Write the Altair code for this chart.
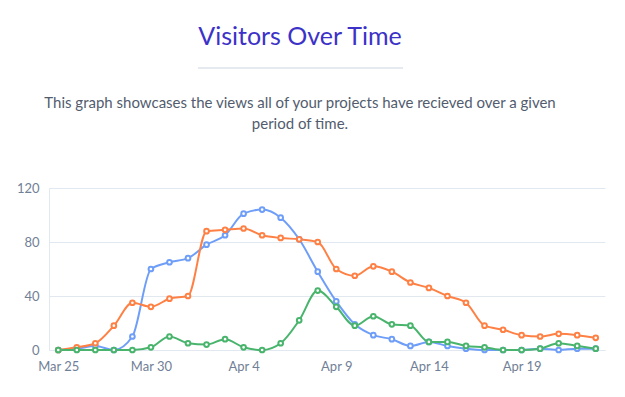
import altair as alt
import pandas as pd

# ---- data ----
days = list(range(30))  # Mar 25 .. Apr 23
tick_values = [0, 5, 10, 15, 20, 25]
tick_labels = ["Mar 25", "Mar 30", "Apr 4", "Apr 9", "Apr 14", "Apr 19"]

blue = [0, 1, 3, 0, 10, 60, 65, 68, 78, 85, 101, 104, 98, 82, 58, 36, 19, 11, 8, 3,
        6, 3, 1, 0, 0, 0, 1, 0, 1, 1]
orange = [0, 2, 5, 18, 35, 32, 38, 40, 88, 89, 90, 85, 83, 82, 80, 60, 55, 62, 58, 50,
          46, 40, 35, 18, 15, 11, 10, 12, 11, 9]
green = [0, 0, 0, 0, 0, 2, 10, 5, 4, 8, 2, 0, 5, 22, 44, 32, 18, 25, 19, 18,
         6, 6, 3, 2, 0, 0, 1, 5, 3, 1]

series_names = ["Series A", "Series B", "Series C"]
series_colors = ["#6f9ef8", "#ff8044", "#48b46c"]

TITLE = "Visitors Over Time"
SUB1 = "This graph showcases the views all of your projects have recieved over a given"
SUB2 = "period of time."

rows = []
for name, vals in zip(series_names, [blue, orange, green]):
    for d, v in zip(days, vals):
        rows.append({"day": d, "value": v, "series": name})
df = pd.DataFrame(rows)

label_expr = "[" + ",".join("'%s'" % l for l in tick_labels) + "][datum.value / 5]"

W, H = 556, 162
FONT = "Lato"

x = alt.X("day:Q", scale=alt.Scale(domain=[-0.5, 29.5], nice=False, zero=False),
          axis=alt.Axis(values=tick_values, labelExpr=label_expr, title=None, grid=False,
                        ticks=False, domain=True, domainColor="#e2e8f0", labelColor="#718096",
                        labelFont=FONT, labelFontSize=13, labelPadding=10))
y = alt.Y("value:Q", scale=alt.Scale(domain=[0, 120]),
          axis=alt.Axis(values=[0, 40, 80, 120], title=None, grid=True, gridColor="#e2e8f0",
                        ticks=False, domain=True, domainColor="#e2e8f0", labelColor="#718096",
                        labelFont=FONT, labelFontSize=13, labelPadding=10))
color = alt.Color("series:N", scale=alt.Scale(domain=series_names, range=series_colors), legend=None)

base = alt.Chart(df).encode(x=x, y=y, color=color)
lines = base.mark_line(interpolate="monotone", strokeWidth=2)
points = base.mark_point(shape="circle", filled=False, fill="white", fillOpacity=1,
                         size=22, strokeWidth=2, opacity=1)

tdf = pd.DataFrame({"t": [TITLE]})
title = alt.Chart(tdf).mark_text(font=FONT, fontSize=25, color="#3c32c8", align="center",
                                 baseline="middle").encode(
    x=alt.value(251), y=alt.value(-151), text="t:N")
s1 = alt.Chart(pd.DataFrame({"t": [SUB1]})).mark_text(font=FONT, fontSize=15, color="#525c6e",
                                                      align="center", baseline="middle").encode(
    x=alt.value(251), y=alt.value(-85), text="t:N")
s2 = alt.Chart(pd.DataFrame({"t": [SUB2]})).mark_text(font=FONT, fontSize=15, color="#525c6e",
                                                      align="center", baseline="middle").encode(
    x=alt.value(251), y=alt.value(-64), text="t:N")
divider = alt.Chart(tdf).mark_rule(color="#cbd5e0", strokeWidth=1).encode(
    x=alt.value(149), x2=alt.value(354), y=alt.value(-120))

chart = alt.layer(title, divider, s1, s2, lines, points).properties(
    width=W, height=H,
    autosize=alt.AutoSizeParams(type="none"),
    padding={"left": 41, "top": 180, "right": 12, "bottom": 31},
).configure_view(stroke=None)

chart.save("out.html", embed_options={"renderer": "svg", "actions": False})
